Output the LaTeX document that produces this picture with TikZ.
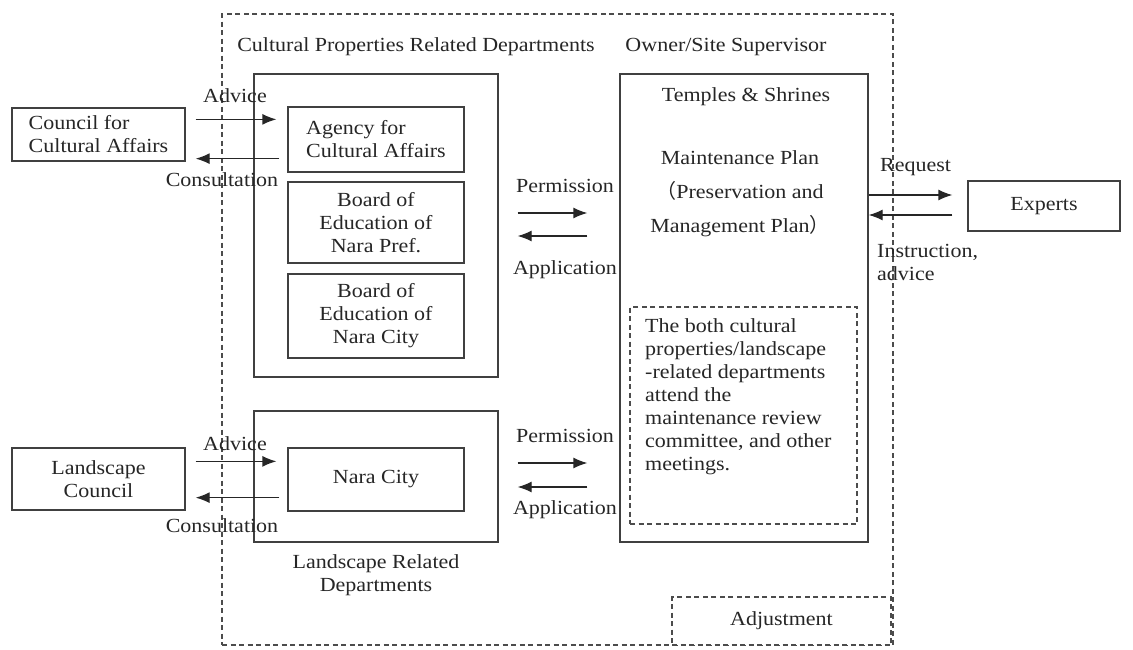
\documentclass[tikz,border=0pt]{standalone}
\usepackage{fontspec}
\setmainfont{Liberation Serif}[FakeStretch=1.1]
\newfontfamily\cjkfont{Noto Sans CJK SC}
\usetikzlibrary{arrows.meta,positioning,calc}

\begin{document}
\begin{tikzpicture}[
    x=1pt, y=-1pt,
    >={Latex[length=14pt,width=11pt]},
    font=\fontsize{20}{23}\selectfont,
    text=black!85,
    dept_box/.style={draw=black!75, line width=1.3pt, inner sep=0pt},
    unit_box/.style={dept_box, align=center},
    dash_box/.style={draw=black!70, line width=1.3pt, dash pattern=on 5pt off 3.5pt},
    flow_edge/.style={->, line width=1.3pt, black!85},
    lbl/.style={inner sep=0pt}
]
\fill[white] (0,0) rectangle (1133,649);
\useasboundingbox (0,0) rectangle (1133,649);

% --- NODES ---

% Whole site (dashed frame)
\node[dash_box, minimum width=671pt, minimum height=631pt] (site) at (557.5,329.5) {};
\node[dash_box, fill=white, minimum width=219pt, minimum height=48pt] (adjust) at (781.5,621) {Adjustment};

% Headings
\node[lbl] (cp_title) at (416,47) {Cultural Properties Related Departments};
\node[lbl] (own_title) at (726,47) {Owner/Site Supervisor};

% Cultural properties related departments
\node[dept_box, minimum width=244pt, minimum height=303pt] (cultural) at (376,225.5) {};
\node[unit_box, align=left, minimum width=176pt, minimum height=65pt] (agency) at (376,139.5) {Agency for\\Cultural Affairs};
\node[unit_box, minimum width=176pt, minimum height=81pt] (pref) at (376,222.5) {Board of\\Education of\\Nara Pref.};
\node[unit_box, minimum width=176pt, minimum height=84pt] (city) at (376,316) {Board of\\Education of\\Nara City};

% Landscape related departments
\node[dept_box, minimum width=244pt, minimum height=131pt] (landscape) at (376,476.5) {};
\node[unit_box, minimum width=176pt, minimum height=63pt] (naracity) at (376,479.5) {Nara City};
\node[lbl, align=center, below=12pt of landscape] (ls_title) {Landscape Related\\Departments};

% Councils (Left)
\node[unit_box, align=left, minimum width=173pt, minimum height=53pt] (council) at (98.5,134.5) {Council for\\Cultural Affairs};
\node[unit_box, minimum width=173pt, minimum height=62pt] (lcouncil) at (98.5,479) {Landscape\\Council};

% Owner / site supervisor
\node[dept_box, minimum width=248pt, minimum height=468pt] (temples) at (744,308) {};
\node[lbl] (temples_ttl) at (746,97) {Temples \& Shrines};
\node[lbl, align=center] (plan) at (740,194) {Maintenance Plan\\[11pt]{\cjkfont （}Preservation and\\[11pt]Management Plan{\cjkfont ）}};
\node[dash_box, minimum width=227pt, minimum height=217pt] (meeting) at (743.5,415.5) {};
\node[lbl, align=left, anchor=north west] (meeting_txt) at (645,318) {The both cultural\\properties/landscape\\-related departments\\attend the\\maintenance review\\committee, and other\\meetings.};

% Experts (Right)
\node[unit_box, minimum width=152pt, minimum height=50pt] (experts) at (1044,206) {Experts};

% --- EDGES ---

% 1. Councils
\draw[flow_edge] ($(council.north east)+(10,12)$) -- ($(agency.north west)+(-11,13)$);
\draw[flow_edge] ($(agency.south west)+(-8,-14)$) -- ($(council.south east)+(10,-3)$);
\draw[flow_edge] ($(lcouncil.north east)+(10,14)$) -- ($(naracity.north west)+(-11,14)$);
\draw[flow_edge] ($(naracity.south west)+(-8,-14)$) -- ($(lcouncil.south east)+(10,-13)$);

% 2. Permission / Application
\draw[flow_edge] ($(cultural.east)+(19,-12.5)$) -- ($(temples.west|-cultural.east)+(-32,-12.5)$);
\draw[flow_edge] ($(temples.west|-cultural.east)+(-32,10.5)$) -- ($(cultural.east)+(19,10.5)$);
\draw[flow_edge] ($(landscape.east)+(19,-13.5)$) -- ($(temples.west|-landscape.east)+(-32,-13.5)$);
\draw[flow_edge] ($(temples.west|-landscape.east)+(-32,10.5)$) -- ($(landscape.east)+(19,10.5)$);

% 3. Experts
\draw[flow_edge] ($(temples.east|-experts.west)+(0,-11)$) -- ($(experts.west)+(-15,-11)$);
\draw[flow_edge] ($(experts.west)+(-15,9)$) -- ($(temples.east|-experts.west)+(0,9)$);

% --- ANNOTATIONS ---
\node[lbl] (adv_cp) at (235,96) {Advice};
\node[lbl] (con_cp) at (222,180) {Consultation};
\node[lbl] (adv_ls) at (235,444) {Advice};
\node[lbl] (con_ls) at (222,526) {Consultation};
\node[lbl] (perm_cp) at (565,186) {Permission};
\node[lbl] (app_cp) at (565,270) {Application};
\node[lbl] (perm_ls) at (565,436) {Permission};
\node[lbl] (app_ls) at (565,510) {Application};
\node[lbl, anchor=west] (req) at (880,167) {Request};
\node[lbl, align=left, anchor=north west] (instr) at (877,244) {Instruction,\\advice};

\end{tikzpicture}
\end{document}
